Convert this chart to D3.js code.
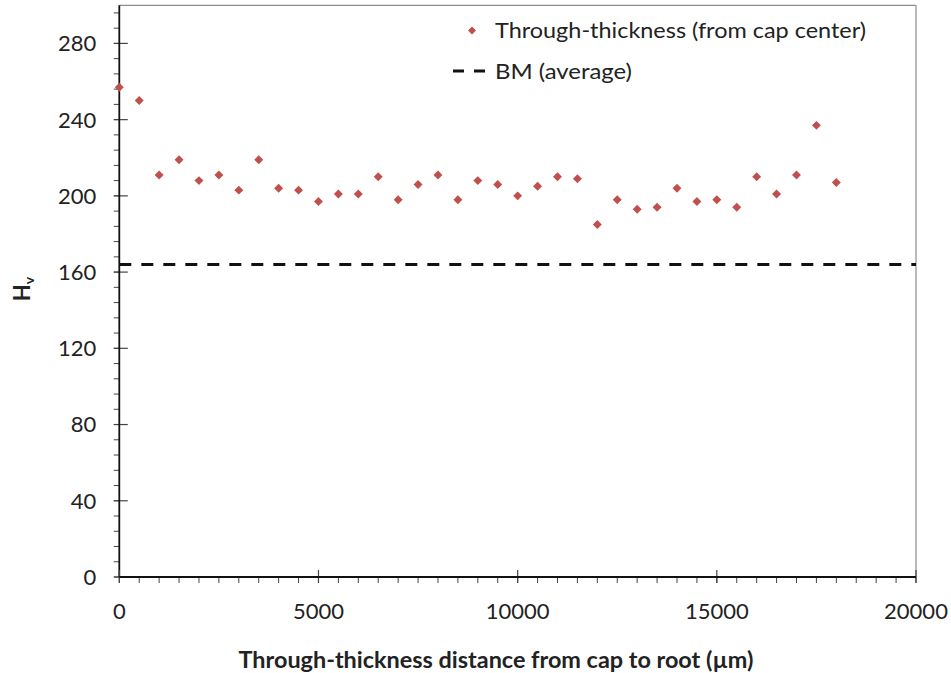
<!DOCTYPE html>
<html><head><meta charset="utf-8">
<script src="https://cdn.jsdelivr.net/npm/d3@7"></script>
<style>body{margin:0;background:#fff}svg{display:block}text{font-family:Lato,"Open Sans",sans-serif;fill:#222}</style>
</head><body><svg id="c" width="951" height="673"></svg>
<script>
const distances = [0,500,1000,1500,2000,2500,3000,3500,4000,4500,5000,5500,6000,6500,7000,7500,8000,8500,9000,9500,10000,10500,11000,11500,12000,12500,13000,13500,14000,14500,15000,15500,16000,16500,17000,17500,18000];
const hardness = [257,250,211,219,208,211,203,219,204,203,197,201,201,210,198,206,211,198,208,206,200,205,210,209,185,198,193,194,204,197,198,194,210,201,211,237,207];
const bmAverage = 164;
const xTicks = [0,5000,10000,15000,20000];
const yTicks = [0,40,80,120,160,200,240,280];
const seriesNames = ["Through-thickness (from cap center)","BM (average)"];
const xTitle = "Through-thickness distance from cap to root (µm)";

const svg = d3.select("#c");
const L=119.3,R=916,T=5.3,B=577;
const x = d3.scaleLinear().domain([0,20000]).range([L,R]);
const y = d3.scaleLinear().domain([0,300]).range([B,T]);

// frame top/right
svg.append("line").attr("x1",L).attr("x2",R).attr("y1",T).attr("y2",T).attr("stroke","#8c8c8c").attr("stroke-width",1.2);
svg.append("line").attr("x1",R).attr("x2",R).attr("y1",T).attr("y2",B).attr("stroke","#8c8c8c").attr("stroke-width",1.2);

// minor ticks
const yMinor = d3.range(0,300.1,8);
const xMinor = d3.range(0,20000.1,500);
const gy = svg.append("g").attr("transform",`translate(${L},0)`);
gy.selectAll("line.mn").data(yMinor).join("line").attr("x1",-5.5).attr("x2",0)
  .attr("y1",d=>y(d)).attr("y2",d=>y(d)).attr("stroke","#444").attr("stroke-width",1);
gy.selectAll("line.mj").data(yTicks).join("line").attr("x1",-5.5).attr("x2",8.5)
  .attr("y1",d=>y(d)).attr("y2",d=>y(d)).attr("stroke","#444").attr("stroke-width",1.2);
gy.selectAll("text").data(yTicks).join("text").attr("x",-23).attr("y",d=>y(d)).attr("dy","0.36em")
  .attr("text-anchor","end").attr("font-size",22).text(d=>d);
gy.append("line").attr("x1",0).attr("x2",0).attr("y1",T).attr("y2",B).attr("stroke","#111").attr("stroke-width",1.8);

const gx = svg.append("g").attr("transform",`translate(0,${B})`);
gx.selectAll("line.mn").data(xMinor).join("line").attr("x1",d=>x(d)).attr("x2",d=>x(d))
  .attr("y1",0).attr("y2",6).attr("stroke","#444").attr("stroke-width",1);
gx.selectAll("line.mj").data(xTicks).join("line").attr("x1",d=>x(d)).attr("x2",d=>x(d))
  .attr("y1",-7).attr("y2",6).attr("stroke","#444").attr("stroke-width",1.2);
gx.selectAll("text").data(xTicks).join("text").attr("x",d=>x(d)).attr("y",42)
  .attr("text-anchor","middle").attr("font-size",22).text(d=>d);
gx.append("line").attr("x1",L).attr("x2",R).attr("y1",0).attr("y2",0).attr("stroke","#111").attr("stroke-width",1.8);

// BM line
svg.append("line").attr("x1",L).attr("x2",R).attr("y1",y(bmAverage)).attr("y2",y(bmAverage))
  .attr("stroke","#111").attr("stroke-width",3).attr("stroke-dasharray","12,10");

// points
const marker = d3.symbol().type(d3.symbolSquare).size(40);
svg.append("g").selectAll("path").data(distances).join("path")
  .attr("d",marker).attr("transform",(d,i)=>`translate(${x(d)},${y(hardness[i])}) rotate(45)`)
  .attr("fill","#c0504d");

// legend
svg.append("path").attr("d",d3.symbol().type(d3.symbolSquare).size(32)).attr("transform","translate(472,30.5) rotate(45)").attr("fill","#c0504d");
svg.append("text").attr("x",495).attr("y",30.5).attr("dy","0.36em").attr("font-size",22)
  .attr("textLength",371).attr("lengthAdjust","spacingAndGlyphs").text(seriesNames[0]);
svg.append("line").attr("x1",453).attr("x2",485).attr("y1",71).attr("y2",71).attr("stroke","#111").attr("stroke-width",3).attr("stroke-dasharray","11,10");
svg.append("text").attr("x",495).attr("y",71).attr("dy","0.36em").attr("font-size",22)
  .attr("textLength",137).attr("lengthAdjust","spacingAndGlyphs").text(seriesNames[1]);

// axis titles
svg.append("text").attr("x",496).attr("y",660).attr("dy","0.36em").attr("text-anchor","middle")
  .attr("font-size",22).attr("font-weight","bold")
  .attr("textLength",515).attr("lengthAdjust","spacingAndGlyphs").text(xTitle);
const yt = svg.append("text").attr("transform","translate(29.5,289) rotate(-90)").attr("text-anchor","middle")
  .attr("font-size",22).attr("font-weight","bold");
yt.append("tspan").text("H");
yt.append("tspan").attr("font-size",14).attr("dy",4).text("v");
</script></body></html>
